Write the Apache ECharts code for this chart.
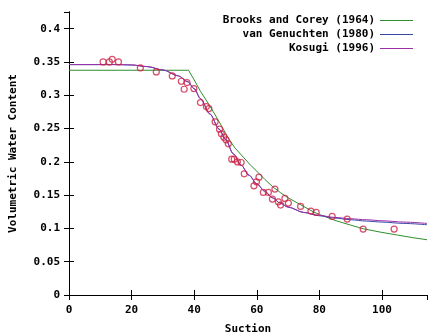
<!DOCTYPE html>
<html>
<head>
<meta charset="utf-8">
<script src="https://cdn.jsdelivr.net/npm/echarts@6/dist/echarts.min.js"></script>
<style>html,body{margin:0;padding:0;background:#fff}#c{width:447px;height:335px}</style>
</head>
<body>
<div id="c"></div>
<script>
// Measured data points: suction, volumetric water content
const obsSuction = [10.9,12.9,13.8,15.8,22.8,27.9,33.0,35.9,36.8,37.7,39.9,42.0,43.9,44.7,46.7,48.1,48.7,49.5,50.2,50.9,52.0,52.8,53.8,55.0,56.0,59.1,59.9,60.7,62.1,63.7,65.0,65.8,66.9,67.6,69.0,70.1,74.0,77.3,79.0,84.1,88.9,94.0,103.9];
const obsTheta   = [0.350,0.350,0.354,0.350,0.341,0.335,0.329,0.321,0.309,0.319,0.310,0.289,0.283,0.280,0.260,0.249,0.242,0.237,0.233,0.227,0.204,0.204,0.200,0.199,0.182,0.164,0.170,0.177,0.154,0.154,0.144,0.159,0.140,0.135,0.145,0.138,0.133,0.126,0.124,0.118,0.114,0.099,0.099];

// Brooks and Corey (1964) curve
const bcSuction = [0,38.2,40,42,45,48,51,53,55.7,58,60,62.5,65,67.5,70,75,78,80,85,90,94,100,105,110,114.4];
const bcTheta   = [0.3375,0.3375,0.323,0.306,0.284,0.260,0.235,0.221,0.207,0.195,0.186,0.174,0.163,0.154,0.146,0.133,0.125,0.121,0.112,0.105,0.0995,0.094,0.090,0.086,0.083];

// van Genuchten (1980) curve
const vgSuction = [0,15,20,25,30,35,38,40,42,45,48,50,52.5,55,57.5,60,62.5,65,67.5,70,75,80,85,90,95,100,107,114.4];
const vgTheta   = [0.346,0.346,0.3455,0.343,0.338,0.329,0.320,0.310,0.295,0.272,0.249,0.234,0.212,0.195,0.180,0.167,0.156,0.146,0.138,0.132,0.124,0.119,0.1155,0.113,0.111,0.1095,0.1075,0.1055];

// Kosugi (1996) curve
const ksSuction = [0,15,20,25,30,35,38,40,42,45,48,50,52.5,55,57.5,60,62.5,65,67.5,70,75,80,85,90,95,100,107,114.4];
const ksTheta   = [0.346,0.346,0.3455,0.343,0.338,0.329,0.320,0.310,0.295,0.272,0.249,0.234,0.212,0.195,0.180,0.167,0.156,0.146,0.138,0.132,0.124,0.1195,0.1165,0.1145,0.113,0.1115,0.1095,0.1075];

const xTicks = [0,20,40,60,80,100];
const yTicks = [0,0.05,0.1,0.15,0.2,0.25,0.3,0.35,0.4];

const zip = (a,b) => a.map((v,i)=>[v,b[i]]);
const FONT = 'DejaVu Sans Mono';
const txt = {color:'#000', fontFamily:FONT, fontWeight:'bold', fontSize:11};

const chart = echarts.init(document.getElementById('c'), null, {renderer:'canvas'});
const axLine = {show:true, lineStyle:{color:'#000', width:1}};
chart.setOption({
  animation:false,
  backgroundColor:'#fff',
  grid:{left:69, right:20, top:12, bottom:40, containLabel:false, outerBoundsMode:'none'},
  legend:{
    orient:'vertical', right:29, top:10, align:'right',
    icon:'rect', itemWidth:33, itemHeight:1, itemGap:3,
    textStyle:Object.assign({lineHeight:11}, txt),
    data:['Brooks and Corey (1964)','van Genuchten (1980)','Kosugi (1996)']
  },
  xAxis:[
    {type:'value', min:0, max:114.4, interval:20, position:'bottom',
     axisLine:axLine, axisTick:{show:true, inside:true, length:5, lineStyle:{color:'#000'}},
     axisLabel:Object.assign({margin:10, showMaxLabel:false, formatter:v=>xTicks.includes(v)?String(v):''}, txt),
     splitLine:{show:false},
     name:'Suction', nameLocation:'middle', nameGap:29, nameTextStyle:txt},
    {type:'value', min:0, max:114.4, interval:20, position:'top',
     axisLine:axLine, axisTick:{show:true, inside:true, length:5, lineStyle:{color:'#000'}},
     axisLabel:{show:false}, splitLine:{show:false}}
  ],
  yAxis:[
    {type:'value', min:0, max:0.425, interval:0.05, position:'left',
     axisLine:axLine, axisTick:{show:true, inside:true, length:5, lineStyle:{color:'#000'}},
     axisLabel:Object.assign({margin:9, showMaxLabel:false,
       formatter:v=>{const t=yTicks.find(k=>Math.abs(k-v)<1e-9);return t===undefined?'':String(t);}}, txt),
     splitLine:{show:false},
     name:'Volumetric Water Content', nameLocation:'middle', nameGap:50, nameRotate:90, nameTextStyle:txt},
    {type:'value', min:0, max:0.425, interval:0.05, position:'right',
     axisLine:axLine, axisTick:{show:true, inside:true, length:5, lineStyle:{color:'#000'}},
     axisLabel:{show:false}, splitLine:{show:false}}
  ],
  series:[
    {name:'Brooks and Corey (1964)', type:'line', data:zip(bcSuction,bcTheta), showSymbol:false,
     color:'#2e8f2e', lineStyle:{width:1, color:'#2e8f2e'}, z:3},
    {name:'van Genuchten (1980)', type:'line', data:zip(vgSuction,vgTheta), showSymbol:false, smooth:0.3, smoothMonotone:'x',
     color:'#3848a8', lineStyle:{width:1, color:'#3848a8'}, z:3},
    {name:'Kosugi (1996)', type:'line', data:zip(ksSuction,ksTheta), showSymbol:false, smooth:0.3, smoothMonotone:'x',
     color:'#9a2fa8', lineStyle:{width:1, color:'#9a2fa8'}, z:4},
    {name:'data', type:'scatter', data:zip(obsSuction,obsTheta), symbol:'circle', symbolSize:6,
     itemStyle:{color:'rgba(255,255,255,0)', borderColor:'#cc2244', borderWidth:1.2}, z:5}
  ]
});
</script>
</body>
</html>
